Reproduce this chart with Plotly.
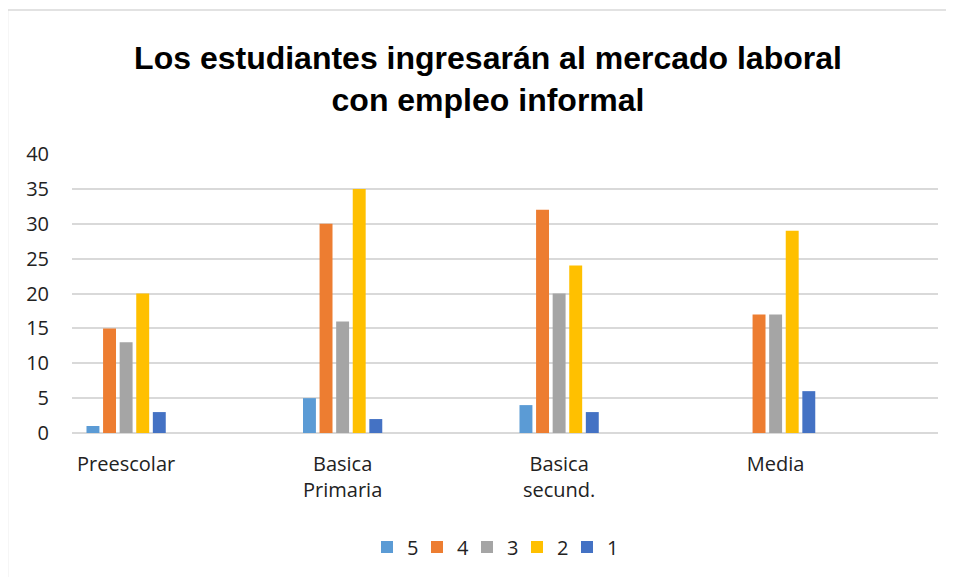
import plotly.graph_objects as go

categories = ["Preescolar", "Basica<br>Primaria", "Basica<br>secund.", "Media"]
series_names = ["5", "4", "3", "2", "1"]
values_5 = [1, 5, 4, 0]
values_4 = [15, 30, 32, 17]
values_3 = [13, 16, 20, 17]
values_2 = [20, 35, 24, 29]
values_1 = [3, 2, 3, 6]
series_values = [values_5, values_4, values_3, values_2, values_1]
colors = ["#5B9BD5", "#ED7D31", "#A5A5A5", "#FFC000", "#4472C4"]
title_text = "Los estudiantes ingresarán al mercado laboral<br>con empleo informal"

W, H = 954, 577
OFF = 8  # browser body margin
# target page-pixel positions of the plot area
PL, PR, PT, PB = 72, 938, 154, 433
ML, MT = PL - OFF, PT - OFF
MR = W - (PR - OFF)
MB = H - (PB - OFF)
pw, ph = PR - PL, PB - PT

def px_x(px):
    return (px - PL) / pw

def px_y(py):
    return (PB - py) / ph

fig = go.Figure()
for name, vals, col in zip(series_names, series_values, colors):
    fig.add_trace(go.Bar(x=categories, y=vals, name=name, marker_color=col,
                         marker_line_width=0))

font_main = "Open Sans, Noto Sans, sans-serif"

fig.update_layout(
    width=W, height=H,
    margin=dict(l=ML, r=MR, t=MT, b=MB),
    paper_bgcolor="white", plot_bgcolor="white",
    barmode="group", bargap=0.617, bargroupgap=0.22,
    showlegend=True,
    legend=dict(orientation="h", x=px_x(492), y=px_y(547), xanchor="center",
                yanchor="middle", font=dict(family=font_main, size=20, color="#222"),
                itemwidth=30, entrywidth=5, entrywidthmode="pixels",
                traceorder="normal"),
    title=dict(text="<b>" + title_text + "</b>", x=px_x(488), xref="paper",
               xanchor="center", y=1 - 61 / H, yref="container", yanchor="middle",
               font=dict(family="Liberation Sans, Arial, sans-serif",
                         size=32, color="#000")),
    font=dict(family=font_main, size=20, color="#222"),
)
fig.update_xaxes(range=[-0.25, 3.75], showgrid=False, showline=False, ticks="",
                 tickfont=dict(size=20, color="#222"), ticklabelstandoff=17,
                 zeroline=False)
fig.update_yaxes(range=[0, 40], dtick=5, showgrid=True, gridcolor="#D9D9D9",
                 gridwidth=1.5, zeroline=True, zerolinecolor="#D9D9D9",
                 zerolinewidth=1.5, showline=False, ticks="",
                 tickfont=dict(size=20, color="#222"), ticklabelstandoff=22)

# chart border (light gray, top and left visible)
fig.add_shape(type="line", xref="paper", yref="paper", x0=px_x(7.5), x1=px_x(970),
              y0=px_y(10), y1=px_y(10), line=dict(color="#D9D9D9", width=1.5))
fig.add_shape(type="line", xref="paper", yref="paper", x0=px_x(7.5), x1=px_x(7.5),
              y0=px_y(10), y1=px_y(600), line=dict(color="#D9D9D9", width=1.5))

fig.write_html("out.html")
